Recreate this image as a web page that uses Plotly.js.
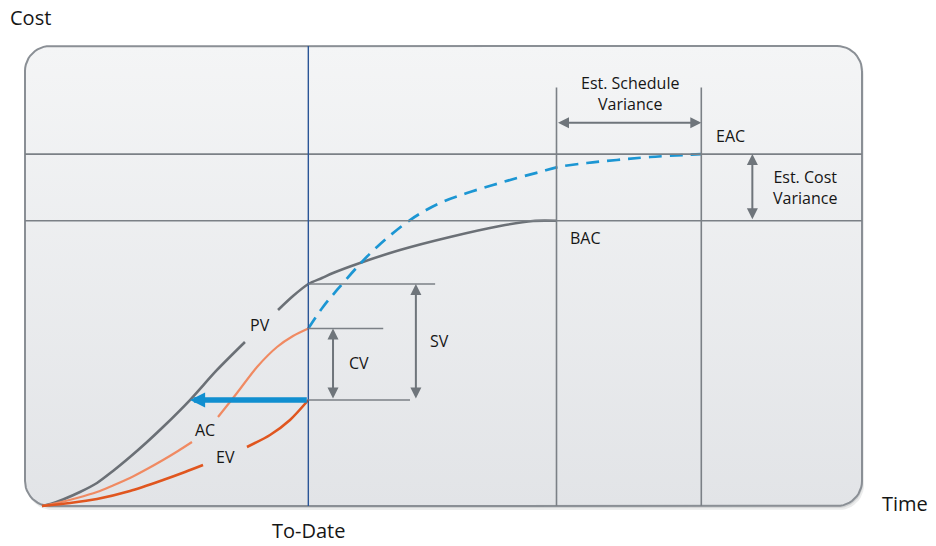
<!DOCTYPE html>
<html>
<head>
<meta charset="utf-8">
<script src="https://cdn.plot.ly/plotly-3.0.1.min.js"></script>
<style>html,body{margin:0;padding:0;background:#fff;}#chart{width:936px;height:546px;}</style>
</head>
<body>
<div id="chart"></div>
<script>
// ---- Data (time 0..100, cost 0..100) ----
const toDate = 33.85;      // status date
const bacTime = 63.5;      // planned completion
const eacTime = 80.8;      // estimated completion
const BAC = 62.0;          // budget at completion
const EAC = 76.5;          // estimate at completion

const pvTime = [2.03, 3.23, 4.54, 6.57, 8.6, 10.51, 12.54, 14.58, 16.49, 19.71, 22.94, 26.28, null, 30.23, 32.02, 33.85, 35.48, 36.8, 40.02, 44.8, 50.78, 56.75, 60.69, 63.5];
const pvCost = [0, 0.54, 1.41, 3.04, 5.0, 7.61, 10.65, 13.91, 17.17, 23.04, 29.57, 35.65, null, 42.61, 45.65, 48.26, 49.57, 50.65, 52.83, 55.65, 58.48, 60.87, 61.96, 62.0];

const acTime = [2.03, 3.82, 6.21, 8.6, 10.51, 12.54, 14.58, 16.49, 18.28, 19.95, null, 23.06, 25.33, 27.72, 30.11, 32.02, 33.85];
const acCost = [0, 0.65, 1.74, 3.04, 4.46, 6.09, 8.04, 10.0, 11.96, 13.91, null, 19.35, 24.57, 30.22, 34.57, 36.96, 38.59];

const evTime = [2.03, 5.38, 8.6, 12.54, 16.49, 19.12, 21.27, null, 26.52, 29.27, 31.66, 33.85];
const evCost = [0, 0.65, 1.52, 3.26, 5.65, 7.39, 8.91, null, 12.83, 15.43, 18.7, 23.04];

const fcTime = [33.85, 35.6, 37.28, 40.02, 42.05, 46.0, 49.58, 52.81, 55.91, 58.78, 61.53, 63.68, 67.14, 70.73, 74.67, 80.8];
const fcCost = [38.59, 43.26, 46.96, 52.61, 56.3, 62.17, 65.87, 68.04, 69.78, 71.3, 72.61, 73.7, 74.57, 75.22, 75.87, 76.5];

const labels = {pv:'PV', ac:'AC', ev:'EV', cv:'CV', sv:'SV', bac:'BAC', eac:'EAC',
  esv:'Est. Schedule<br>Variance', ecv:'Est. Cost<br>Variance', cost:'Cost', time:'Time', date:'To-Date'};

// ---- helpers ----
function lastVal(a){ for(let i=a.length-1;i>=0;i--) if(a[i]!==null) return a[i]; }
function pairs(xs, ys){ const p=[]; for(let i=0;i<xs.length;i++) if(xs[i]!==null) p.push([xs[i],ys[i]]); return p; }
function interpY(xs, ys, x){
  const p=pairs(xs,ys);
  for(let i=1;i<p.length;i++) if(x<=p[i][0]){ const t=(x-p[i-1][0])/(p[i][0]-p[i-1][0]); return p[i-1][1]+t*(p[i][1]-p[i-1][1]); }
  return p[p.length-1][1];
}
function interpX(xs, ys, y){
  const p=pairs(xs,ys);
  for(let i=1;i<p.length;i++) if(y<=p[i][1]){ const t=(y-p[i-1][1])/(p[i][1]-p[i-1][1]); return p[i-1][0]+t*(p[i][0]-p[i-1][0]); }
  return p[p.length-1][0];
}
const pvNow = interpY(pvTime, pvCost, toDate);
const acNow = lastVal(acCost);
const evNow = lastVal(evCost);
const evOnPlan = interpX(pvTime, pvCost, evNow);

// pixel scale of the frame (frame spans x 0..100, y 0..100)
const PXX = 8.37, PXY = 4.6;
function roundRect(dx, dy, r){
  const xs=[], ys=[];
  const rx=r/PXX, ry=r/PXY, ox=dx/PXX, oy=-dy/PXY;
  const corners=[[100-rx,100-ry,0],[rx,100-ry,90],[rx,ry,180],[100-rx,ry,270]];
  corners.forEach(c=>{ for(let k=0;k<=12;k++){ const a=(c[2]+k*90/12)*Math.PI/180;
    xs.push(c[0]+rx*Math.cos(a)+ox); ys.push(c[1]+ry*Math.sin(a)+oy);} });
  xs.push(xs[0]); ys.push(ys[0]);
  return {xs, ys};
}
const sh1 = roundRect(2, 4, 25), sh2 = roundRect(1, 2, 25), frame = roundRect(0, 0, 25);

const font = 'Open Sans, Noto Sans, sans-serif';

const traces = [
  {x: sh1.xs, y: sh1.ys, mode:'lines', fill:'toself', fillcolor:'rgba(90,95,100,0.12)', line:{width:0}, hoverinfo:'skip'},
  {x: sh2.xs, y: sh2.ys, mode:'lines', fill:'toself', fillcolor:'rgba(90,95,100,0.18)', line:{width:0}, hoverinfo:'skip'},
  {x: frame.xs, y: frame.ys, mode:'lines', fill:'toself',
   fillgradient:{type:'vertical', colorscale:[[0,'#e2e4e7'],[1,'#f4f5f6']]},
   fillcolor:'#eceef0', line:{color:'#8a8f95', width:2}, hoverinfo:'skip'},
  {x: pvTime, y: pvCost, mode:'lines', line:{color:'#6b7076', width:2.6, shape:'spline', smoothing:0.8}, connectgaps:false},
  {x: acTime, y: acCost, mode:'lines', line:{color:'#f08a62', width:2.2, shape:'spline', smoothing:0.8}, connectgaps:false},
  {x: evTime, y: evCost, mode:'lines', line:{color:'#e0561f', width:2.6, shape:'spline', smoothing:0.8}, connectgaps:false},
  {x: fcTime, y: fcCost, mode:'lines', line:{color:'#1c96d3', width:2.7, dash:'13px,8px', shape:'spline', smoothing:1}}
];

const lc = {color:'#7b8086', width:1.6};
const shapes = [
  {type:'line', xref:'x', yref:'y', x0:0, x1:100, y0:EAC, y1:EAC, line:lc},
  {type:'line', xref:'x', yref:'y', x0:0, x1:100, y0:BAC, y1:BAC, line:lc},
  {type:'line', xref:'x', yref:'y', x0:bacTime, x1:bacTime, y0:0, y1:91.0, line:lc},
  {type:'line', xref:'x', yref:'y', x0:eacTime, x1:eacTime, y0:0, y1:91.0, line:lc},
  {type:'line', xref:'x', yref:'y', x0:toDate, x1:toDate, y0:0, y1:100, line:{color:'#2a5596', width:1.4}},
  // SV / CV extension lines
  {type:'line', xref:'x', yref:'y', x0:toDate, x1:49.0, y0:pvNow, y1:pvNow, line:lc},
  {type:'line', xref:'x', yref:'y', x0:toDate, x1:42.8, y0:acNow, y1:acNow, line:lc},
  {type:'line', xref:'x', yref:'y', x0:toDate, x1:46.0, y0:evNow, y1:evNow, line:lc}
];

function dbl(x0,y0,x1,y1){
  return {x:x1, y:y1, ax:x0, ay:y0, xref:'x', yref:'y', axref:'x', ayref:'y', text:'', showarrow:true,
    arrowhead:2, arrowside:'end+start', arrowsize:1.1, arrowwidth:2, arrowcolor:'#6f757b', standoff:0, startstandoff:0};
}
function lab(t,x,y,opts){ return Object.assign({text:t, x:x, y:y, xref:'x', yref:'y', showarrow:false,
  font:{family:font, size:16, color:'#161616'}, xanchor:'center', yanchor:'middle'}, opts||{}); }
const big = {family:font, size:20, color:'#161616'};

const annotations = [
  dbl(46.7, evNow, 46.7, pvNow),
  dbl(36.8, evNow, 36.8, acNow),
  dbl(bacTime, 83.3, eacTime, 83.3),
  dbl(86.9, BAC, 86.9, EAC),
  {x: evOnPlan, y: evNow, ax: toDate, ay: evNow, xref:'x', yref:'y', axref:'x', ayref:'y', text:'', showarrow:true,
   arrowhead:2, arrowsize:0.55, arrowwidth:5.5, arrowcolor:'#118fd0', standoff:0},
  lab(labels.pv, 28.08, 39.35),
  lab(labels.ac, 21.46, 16.52),
  lab(labels.ev, 23.99, 10.72),
  lab(labels.cv, 39.87, 31.15),
  lab(labels.sv, 49.58, 35.87),
  lab(labels.bac, 66.97, 58.19),
  lab(labels.eac, 84.29, 80.43),
  lab(labels.esv, 72.28, 89.57),
  lab(labels.ecv, 93.19, 69.24),
  lab(labels.cost, -0.0082, 1.0375, {xref:'paper', yref:'paper', xanchor:'left', font:big}),
  lab(labels.time, 1.0093, 0.027, {xref:'paper', yref:'paper', xanchor:'left', font:big}),
  lab(labels.date, toDate, -0.031, {yref:'paper', font:big})
];

const layout = {
  width:936, height:546,
  margin:{l:15, r:64, t:36, b:30},
  paper_bgcolor:'#ffffff', plot_bgcolor:'rgba(0,0,0,0)',
  showlegend:false,
  xaxis:{range:[(15-25)/PXX, (872-25)/PXX], visible:false, fixedrange:true},
  yaxis:{range:[(506-516)/PXY, (506-36)/PXY], visible:false, fixedrange:true},
  shapes:shapes, annotations:annotations
};
Plotly.newPlot('chart', traces, layout, {displayModeBar:false, staticPlot:true});
</script>
</body>
</html>
